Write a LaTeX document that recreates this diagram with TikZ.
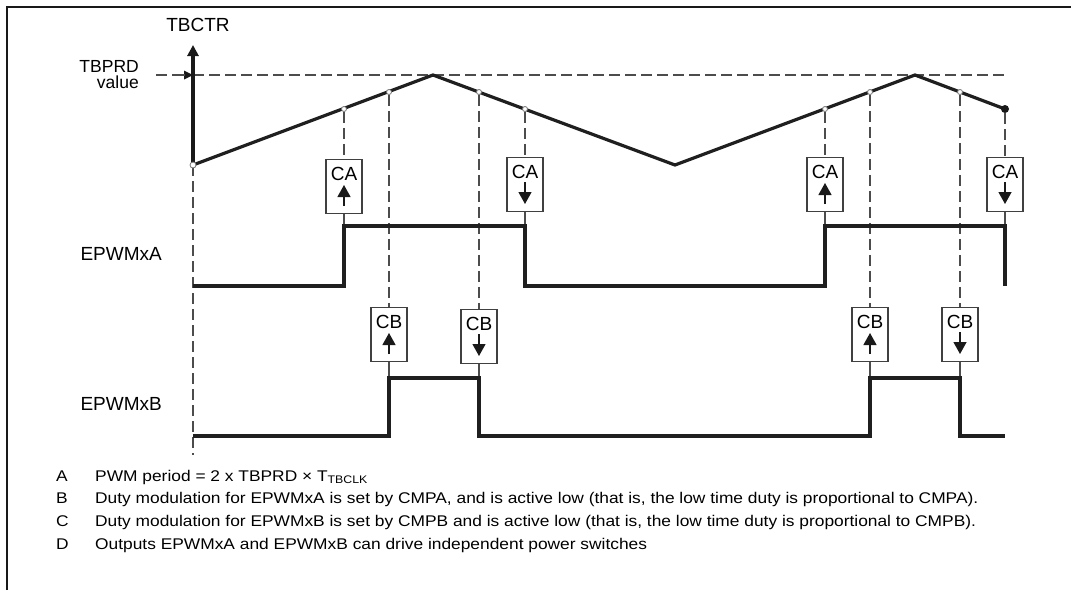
\documentclass[tikz,border=0pt]{standalone}
\usepackage{fontspec}
\setmainfont{Liberation Sans}
\newfontfamily\legfont[FakeStretch=1.12]{Liberation Sans}
\usetikzlibrary{arrows.meta}
\begin{document}
\begin{tikzpicture}[x=1pt,y=-1pt,
  wave/.style={line width=3.2pt, line join=miter, color=black!88},
  guide/.style={dash pattern=on 11pt off 5pt, line width=1.1pt, color=black!70},
  stem/.style={line width=1.1pt, color=black!70},
  evbox/.style={draw=black!75, line width=1.1pt, minimum width=36pt, minimum height=54pt, inner sep=0pt, anchor=north},
  evtxt/.style={font=\fontsize{19}{19}\selectfont, inner sep=0pt, anchor=base},
  evarrow/.style={line width=1.2pt, color=black!90, -{Triangle[length=12pt,width=13pt]}},
  pt/.style={circle, draw=black!55, line width=0.8pt, inner sep=0pt, minimum size=5pt, fill=white},
  lbl/.style={font=\fontsize{19}{19}\selectfont, inner sep=0pt},
  leg/.style={font=\legfont\fontsize{15.5}{18}\selectfont, inner sep=0pt, anchor=base west}]
\useasboundingbox (0,0) rectangle (1071,590);
% frame
\draw[line width=2pt, color=black!90] (7,590) -- (7,7) -- (1071,7);

% guide lines (drawn first)
\coordinate (prdL) at (156,75);
\coordinate (prdA) at (193,75);
\coordinate (prdR) at (1005,75);
\draw[guide] (prdA) -- (prdR);
\draw[guide] (prdL) -- (175,75);
\fill[black!90] (184,70.5) -- (193,75) -- (184,79.5) -- cycle;
\draw[line width=1.1pt, color=black!70] (175,75) -- (185,75);

% axis
\coordinate (p0) at (193,165);
\coordinate (axtop) at (193,45);
\draw[line width=4.5pt, color=black!90, -{Triangle[length=11pt,width=11pt]}] (p0) -- (axtop);
\node[lbl] (tbctr) at (198,25) {TBCTR};
\node[font=\fontsize{17.5}{17.5}\selectfont, anchor=base east, inner sep=0pt] (tbprd) at (139,72.5) {TBPRD};
\node[font=\fontsize{17.5}{17.5}\selectfont, anchor=base east, inner sep=0pt] (tbval) at (139,88.5) {value};

% triangle waveform
\coordinate (pk1) at (433,75);
\coordinate (vl1) at (675,165);
\coordinate (pk2) at (915,75);
\coordinate (pend) at (1005,109);
\draw[wave] (p0) -- (pk1) -- (vl1) -- (pk2) -- (pend);
\draw[guide] (p0) -- (193,455);

% event boxes
\node[evbox] (ca1) at (344,159) {};
\node[evbox] (ca2) at (525,157) {};
\node[evbox] (ca3) at (825,157) {};
\node[evbox] (ca4) at (1005,157) {};
\node[evbox] (cb1) at (389,307) {};
\node[evbox] (cb2) at (479,309) {};
\node[evbox] (cb3) at (870,307) {};
\node[evbox] (cb4) at (960,307) {};

% points on triangle
\node[pt] (q1) at (344,109) {};
\node[pt] (q2) at (389,92) {};
\node[pt] (q3) at (479,92) {};
\node[pt] (q4) at (525,109) {};
\node[pt] (q5) at (825,109) {};
\node[pt] (q6) at (870,92) {};
\node[pt] (q7) at (960,92) {};
\node[circle, fill=black!90, inner sep=0pt, minimum size=8pt] (q8) at (pend) {};
\node[pt, minimum size=6pt] (q0) at (p0) {};

% guides from points to boxes
\foreach \q/\b in {q1/ca1, q4/ca2, q5/ca3, q8/ca4, q2/cb1, q3/cb2, q6/cb3, q7/cb4}
  \draw[guide] (\q.south) -- (\b.north);

% output edge coordinates
\coordinate (a1) at (344,226);
\coordinate (a2) at (525,226);
\coordinate (a3) at (825,226);
\coordinate (a4) at (1005,226);
\coordinate (b1) at (389,378);
\coordinate (b2) at (479,378);
\coordinate (b3) at (870,378);
\coordinate (b4) at (960,378);
\foreach \b/\e in {ca1/a1, ca2/a2, ca3/a3, ca4/a4, cb1/b1, cb2/b2, cb3/b3, cb4/b4}
  \draw[stem] (\b.south) -- (\e);

% box contents
\foreach \b/\t in {ca1/CA, ca2/CA, ca3/CA, ca4/CA, cb1/CB, cb2/CB, cb3/CB, cb4/CB}
  \node[evtxt] at ([yshift=-21pt]\b.north) {\t};
\foreach \b in {ca1, ca3, cb1, cb3}
  \draw[evarrow] ([yshift=-47pt]\b.north) -- ([yshift=-26pt]\b.north);
\foreach \b in {ca2, ca4, cb2, cb4}
  \draw[evarrow] ([yshift=-25pt]\b.north) -- ([yshift=-47pt]\b.north);

% EPWMxA
\node[lbl, anchor=east] (epa) at (162,254) {EPWMxA};
\coordinate (a0) at (193,286);
\draw[wave] (a0) -- (344,286) -- (a1) -- (a2) -- (525,286) -- (825,286) -- (a3) -- (a4) -- (1005,286);

% EPWMxB
\node[lbl, anchor=east] (epb) at (162,404) {EPWMxB};
\coordinate (b0) at (193,436);
\draw[wave] (b0) -- (389,436) -- (b1) -- (b2) -- (479,436) -- (870,436) -- (b3) -- (b4) -- (960,436) -- (1005,436);

% legend
\foreach \y/\l in {481/A, 503/B, 526/C, 549/D}
  \node[leg] at (56,\y) {\l};
\node[leg] (la) at (95,481) {PWM period = 2 x TBPRD × T\raisebox{-0.35ex}{\fontsize{11}{11}\selectfont TBCLK}};
\node[leg] (lb) at (95,503) {Duty modulation for EPWMxA is set by CMPA, and is active low (that is, the low time duty is proportional to CMPA).};
\node[leg] (lc) at (95,526) {Duty modulation for EPWMxB is set by CMPB and is active low (that is, the low time duty is proportional to CMPB).};
\node[leg] (ld) at (95,549) {Outputs EPWMxA and EPWMxB can drive independent power switches};
\end{tikzpicture}
\end{document}
